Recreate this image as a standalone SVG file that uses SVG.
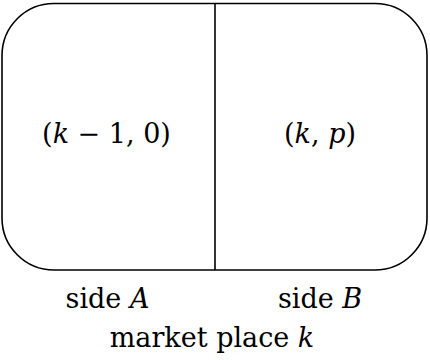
<svg xmlns="http://www.w3.org/2000/svg" width="430" height="360" viewBox="0 0 430 360">
<style>
.shape{fill:none;stroke:#000;stroke-width:1.6}
.t{font-family:"DejaVu Serif","Liberation Serif",serif;font-size:27px;fill:#000;text-anchor:middle}
.i{font-style:italic}
</style>
<rect width="430" height="360" fill="#fff"/>
<g id="market">
<rect class="shape" x="2" y="3.5" width="425" height="266.5" rx="52" ry="52"/>
</g>
<g id="divider">
<line class="shape" x1="215" y1="3.5" x2="215" y2="270"/>
</g>
<g id="sideA">
<text class="t" x="106.5" y="142.5">(<tspan class="i">k</tspan> − 1, 0)</text>
<text class="t" x="107.5" y="308">side <tspan class="i">A</tspan></text>
</g>
<g id="sideB">
<text class="t" x="320" y="142.5">(<tspan class="i">k</tspan>, <tspan class="i">p</tspan>)</text>
<text class="t" x="320" y="308">side <tspan class="i">B</tspan></text>
</g>
<g id="label">
<text class="t" x="212" y="347">market place <tspan class="i">k</tspan></text>
</g>
</svg>
